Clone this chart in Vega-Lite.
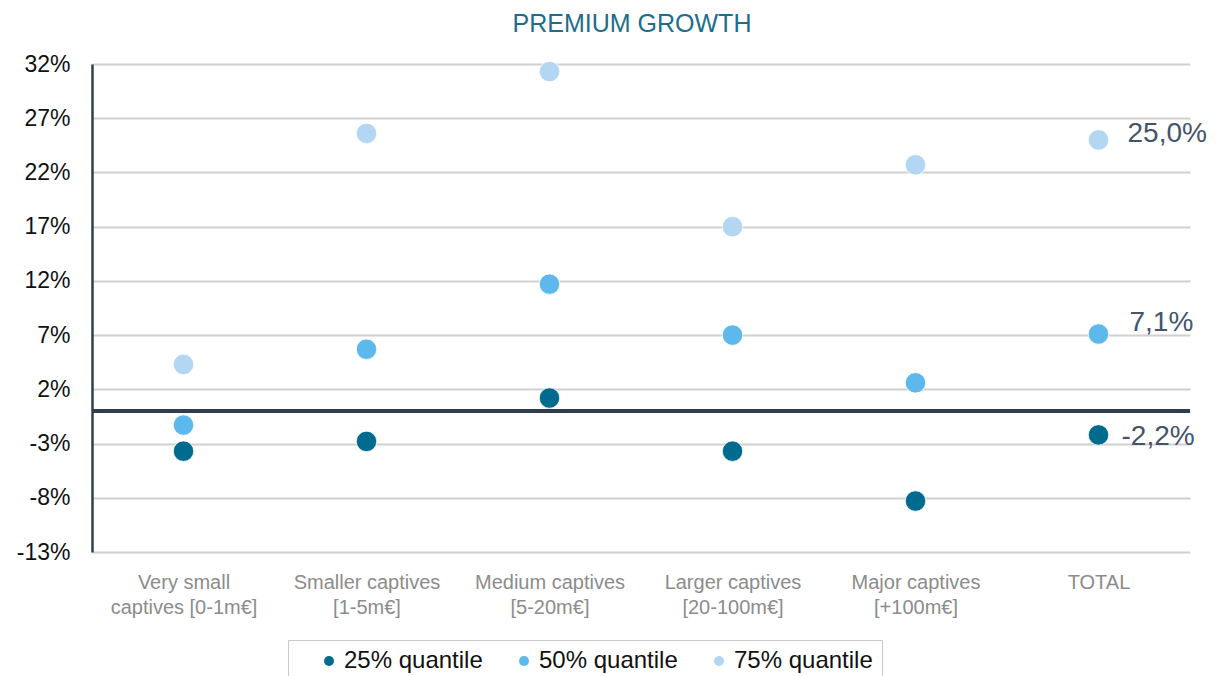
{
  "$schema": "https://vega.github.io/schema/vega-lite/v6.json",
  "autosize": {"type": "none"},
  "width": 1098,
  "height": 488,
  "padding": {"left": 92, "top": 64, "right": 30, "bottom": 124},
  "background": "white",
  "config": {
    "locale": {"number": {"decimal": ",", "thousands": ".", "grouping": [3], "currency": ["", " €"], "minus": "-"}},
    "view": {"stroke": null},
    "font": "Liberation Sans"
  },
  "title": {
    "text": "PREMIUM GROWTH",
    "font": "Liberation Sans",
    "fontSize": 25,
    "fontWeight": "normal",
    "color": "#1C6E8C",
    "anchor": "middle",
    "offset": 16,
    "dx": -9
  },
  "data": {
    "values": [
      {"category": "Very small|captives  [0-1m€]", "quantile": "25% quantile", "value": -0.037},
      {"category": "Very small|captives  [0-1m€]", "quantile": "50% quantile", "value": -0.013},
      {"category": "Very small|captives  [0-1m€]", "quantile": "75% quantile", "value": 0.043},
      {"category": "Smaller  captives|[1-5m€]", "quantile": "25% quantile", "value": -0.028},
      {"category": "Smaller  captives|[1-5m€]", "quantile": "50% quantile", "value": 0.057},
      {"category": "Smaller  captives|[1-5m€]", "quantile": "75% quantile", "value": 0.256},
      {"category": "Medium  captives|[5-20m€]", "quantile": "25% quantile", "value": 0.012},
      {"category": "Medium  captives|[5-20m€]", "quantile": "50% quantile", "value": 0.117},
      {"category": "Medium  captives|[5-20m€]", "quantile": "75% quantile", "value": 0.313},
      {"category": "Larger captives|[20-100m€]", "quantile": "25% quantile", "value": -0.037},
      {"category": "Larger captives|[20-100m€]", "quantile": "50% quantile", "value": 0.070},
      {"category": "Larger captives|[20-100m€]", "quantile": "75% quantile", "value": 0.170},
      {"category": "Major captives|[+100m€]", "quantile": "25% quantile", "value": -0.083},
      {"category": "Major captives|[+100m€]", "quantile": "50% quantile", "value": 0.026},
      {"category": "Major captives|[+100m€]", "quantile": "75% quantile", "value": 0.227},
      {"category": "TOTAL", "quantile": "25% quantile", "value": -0.022},
      {"category": "TOTAL", "quantile": "50% quantile", "value": 0.071},
      {"category": "TOTAL", "quantile": "75% quantile", "value": 0.250}
    ]
  },
  "encoding": {
    "x": {
      "field": "category",
      "type": "nominal",
      "sort": null,
      "scale": {"paddingInner": 0, "paddingOuter": 0},
      "axis": {
        "title": null,
        "domain": false,
        "ticks": false,
        "grid": false,
        "labelAngle": 0,
        "labelExpr": "split(datum.label, '|')",
        "labelFontSize": 20,
        "labelColor": "#8C8C8C",
        "labelPadding": 30,
        "labelLineHeight": 25,
        "labelBaseline": "middle"
      }
    },
    "y": {
      "field": "value",
      "type": "quantitative",
      "scale": {"domain": [-0.13, 0.32], "nice": false, "zero": false},
      "axis": {
        "title": null,
        "values": [-0.13, -0.08, -0.03, 0.02, 0.07, 0.12, 0.17, 0.22, 0.27, 0.32],
        "format": ".0%",
        "ticks": false,
        "domain": true,
        "domainColor": "#2F3F4C",
        "domainWidth": 2.5,
        "grid": true,
        "gridColor": "#D0D0D0",
        "gridWidth": 2,
        "labelFontSize": 23,
        "labelColor": "#111111",
        "labelPadding": 22
      }
    }
  },
  "layer": [
    {
      "mark": {"type": "rule", "color": "#2F3F4C", "strokeWidth": 2.5},
      "encoding": {"y": {"datum": 0}, "x": {"value": 0}, "x2": {"value": 1098}}
    },
    {
      "mark": {"type": "circle", "size": 420, "opacity": 1, "stroke": "white", "strokeWidth": 0.8},
      "encoding": {
        "color": {
          "field": "quantile",
          "type": "nominal",
          "scale": {"domain": ["25% quantile", "50% quantile", "75% quantile"], "range": ["#006B8F", "#5DB9EB", "#B3D7F2"]},
          "legend": {
            "title": null,
            "orient": "none",
            "direction": "horizontal",
            "legendX": 196,
            "legendY": 576,
            "labelFontSize": 24,
            "labelColor": "#111111",
            "symbolSize": 100,
            "symbolType": "circle",
            "symbolStrokeWidth": 0,
            "symbolOffset": 20,
            "labelOffset": 3,
            "columnPadding": 9,
            "padding": 9,
            "strokeColor": "#C8C8C8",
            "labelLimit": 300
          }
        }
      }
    },
    {
      "transform": [{"filter": "datum.category == 'TOTAL' && datum.quantile == '75% quantile'"}],
      "mark": {"type": "text", "align": "left", "baseline": "middle", "dx": 29, "dy": -6, "fontSize": 28, "color": "#44546A"},
      "encoding": {"text": {"field": "value", "type": "quantitative", "format": ".1%"}}
    },
    {
      "transform": [{"filter": "datum.category == 'TOTAL' && datum.quantile == '50% quantile'"}],
      "mark": {"type": "text", "align": "left", "baseline": "middle", "dx": 31, "dy": -11, "fontSize": 28, "color": "#44546A"},
      "encoding": {"text": {"field": "value", "type": "quantitative", "format": ".1%"}}
    },
    {
      "transform": [{"filter": "datum.category == 'TOTAL' && datum.quantile == '25% quantile'"}],
      "mark": {"type": "text", "align": "left", "baseline": "middle", "dx": 23, "dy": 2, "fontSize": 28, "color": "#44546A"},
      "encoding": {"text": {"field": "value", "type": "quantitative", "format": ".1%"}}
    }
  ]
}
